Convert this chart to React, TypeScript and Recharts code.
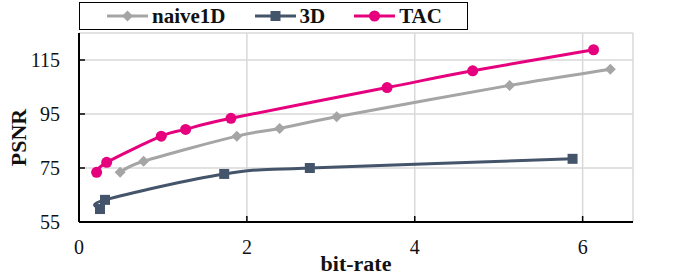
import * as React from "react";
import { LineChart, Line, XAxis, YAxis, CartesianGrid } from "recharts";

// bit-rate / PSNR pairs
const naiveRate = [0.49, 0.77, 1.88, 2.39, 3.07, 5.13, 6.33];
const naivePsnr = [73.4, 77.5, 86.8, 89.6, 94.0, 105.6, 111.6];

const d3Rate = [0.25, 0.31, 1.73, 2.75, 5.88];
const d3Psnr = [59.8, 63.2, 72.8, 75.0, 78.4];

const tacRate = [0.21, 0.33, 0.98, 1.27, 1.81, 3.67, 4.69, 6.13];
const tacPsnr = [73.4, 77.1, 86.8, 89.3, 93.4, 104.8, 111.0, 118.8];

const xTicks = [0, 2, 4, 6];
const yTicks = [55, 75, 95, 115];

const GRAY = "#a5a5a5";
const SLATE = "#44546a";
const MAGENTA = "#e6007e";
const FONT = "'Liberation Serif', Tinos, 'DejaVu Serif', serif";

const zip = (xs: number[], ys: number[]) => xs.map((x, i) => ({ x, y: ys[i] }));

const naiveData = zip(naiveRate, naivePsnr);
const d3Data = zip(d3Rate, d3Psnr);
const tacData = zip(tacRate, tacPsnr);

// Excel-style smoothed line (uniform Catmull-Rom as cubic Beziers)
const smoothCurve = (context: any) => {
  let pts: number[][] = [];
  return {
    areaStart() {},
    areaEnd() {},
    lineStart() {
      pts = [];
    },
    point(x: number, y: number) {
      pts.push([+x, +y]);
    },
    lineEnd() {
      if (!pts.length) return;
      context.moveTo(pts[0][0], pts[0][1]);
      for (let i = 0; i < pts.length - 1; i++) {
        const p0 = pts[i - 1] || pts[i];
        const p1 = pts[i];
        const p2 = pts[i + 1];
        const p3 = pts[i + 2] || p2;
        context.bezierCurveTo(
          p1[0] + (p2[0] - p0[0]) / 6,
          p1[1] + (p2[1] - p0[1]) / 6,
          p2[0] - (p3[0] - p1[0]) / 6,
          p2[1] - (p3[1] - p1[1]) / 6,
          p2[0],
          p2[1]
        );
      }
    },
  };
};

type Shape = "diamond" | "square" | "circle";

function Marker({ cx, cy, shape, color }: { cx: number; cy: number; shape: Shape; color: string }) {
  if (cx == null || cy == null) return null;
  if (shape === "diamond") {
    const r = 5.5;
    return <path d={`M${cx},${cy - r}L${cx + r},${cy}L${cx},${cy + r}L${cx - r},${cy}Z`} fill={color} />;
  }
  if (shape === "square") {
    const r = 5;
    return <rect x={cx - r} y={cy - r} width={r * 2} height={r * 2} fill={color} />;
  }
  return <circle cx={cx} cy={cy} r={5.5} fill={color} />;
}

const legendItems: { label: string; color: string; shape: Shape }[] = [
  { label: "naive1D", color: GRAY, shape: "diamond" },
  { label: "3D", color: SLATE, shape: "square" },
  { label: "TAC", color: MAGENTA, shape: "circle" },
];

function ChartLegend() {
  return (
    <div
      style={{
        position: "absolute",
        left: 79,
        top: 2,
        boxSizing: "border-box",
        width: 389,
        height: 28,
        border: "1.5px solid #000",
        display: "flex",
        alignItems: "center",
        justifyContent: "flex-start",
        gap: 29,
        fontFamily: FONT,
        fontWeight: 700,
        fontSize: 21,
        color: "#111",
        paddingLeft: 27,
      }}
    >
      {legendItems.map((it) => (
        <span key={it.label} style={{ display: "flex", alignItems: "center", gap: 4 }}>
          <svg width={41} height={14}>
            <line x1={0} x2={41} y1={7} y2={7} stroke={it.color} strokeWidth={3} />
            <Marker cx={20.5} cy={7} shape={it.shape} color={it.color} />
          </svg>
          {it.label}
        </span>
      ))}
    </div>
  );
}

function XTick(props: any) {
  const { x, y, payload } = props;
  return (
    <g>
      <line x1={x} x2={x} y1={y} y2={y - 6} stroke="#000" strokeWidth={1.5} />
      <text x={x} y={y + 32} textAnchor="middle" fontFamily={FONT} fontSize={20} fill="#111">
        {payload.value}
      </text>
    </g>
  );
}

function YTick(props: any) {
  const { x, y, payload } = props;
  return (
    <g>
      <line x1={x} x2={x + 6} y1={y} y2={y} stroke="#000" strokeWidth={1.5} />
      <text x={x - 19} y={y} dy="0.35em" textAnchor="end" fontFamily={FONT} fontSize={20} fill="#111">
        {payload.value}
      </text>
    </g>
  );
}

function YTitle(props: any) {
  const { viewBox } = props;
  const cx = 18;
  const cy = viewBox.y + viewBox.height / 2 + 10;
  return (
    <text
      x={cx}
      y={cy}
      transform={`rotate(-90, ${cx}, ${cy})`}
      textAnchor="middle"
      dy="0.35em"
      fontFamily={FONT}
      fontWeight={700}
      fontSize={22}
      fill="#111"
    >
      PSNR
    </text>
  );
}

const frame = { stroke: "#000", strokeWidth: 2 };

export default function App() {
  return (
    <div style={{ position: "absolute", left: 0, top: 0, width: 681, height: 277, background: "#fff" }}>
      <LineChart width={681} height={277} margin={{ top: 33, right: 48, left: 0, bottom: 0 }}>
        <CartesianGrid stroke="#d9d9d9" strokeWidth={1.5} />
        <XAxis
          type="number"
          dataKey="x"
          domain={[0, 6.6]}
          ticks={xTicks}
          allowDataOverflow
          height={55}
          tickSize={0}
          tickMargin={0}
          axisLine={frame}
          tickLine={false}
          tick={<XTick />}
          label={{
            value: "bit-rate",
            position: "insideBottom",
            offset: 6,
            style: { fontFamily: FONT, fontWeight: 700, fontSize: 22, fill: "#111" },
          }}
        />
        <XAxis
          xAxisId="top"
          orientation="top"
          type="number"
          domain={[0, 6.6]}
          height={0}
          tick={false}
          tickLine={false}
          axisLine={frame}
        />
        <YAxis
          type="number"
          dataKey="y"
          domain={[55, 125]}
          ticks={yTicks}
          allowDataOverflow
          width={79}
          tickSize={0}
          tickMargin={0}
          axisLine={frame}
          tickLine={false}
          tick={<YTick />}
          label={<YTitle />}
        />
        <YAxis
          yAxisId="right"
          orientation="right"
          type="number"
          domain={[55, 125]}
          width={0}
          tick={false}
          tickLine={false}
          axisLine={frame}
        />
        <Line
          data={naiveData}
          dataKey="y"
          name="naive1D"
          type={smoothCurve as any}
          stroke={GRAY}
          strokeWidth={3}
          dot={(p: any) => <Marker key={`n${p.index}`} cx={p.cx} cy={p.cy} shape="diamond" color={GRAY} />}
          isAnimationActive={false}
        />
        <Line
          data={d3Data}
          dataKey="y"
          name="3D"
          type={smoothCurve as any}
          stroke={SLATE}
          strokeWidth={3}
          dot={(p: any) => <Marker key={`d${p.index}`} cx={p.cx} cy={p.cy} shape="square" color={SLATE} />}
          isAnimationActive={false}
        />
        <Line
          data={tacData}
          dataKey="y"
          name="TAC"
          type={smoothCurve as any}
          stroke={MAGENTA}
          strokeWidth={3}
          dot={(p: any) => <Marker key={`t${p.index}`} cx={p.cx} cy={p.cy} shape="circle" color={MAGENTA} />}
          isAnimationActive={false}
        />
      </LineChart>
      <ChartLegend />
    </div>
  );
}
